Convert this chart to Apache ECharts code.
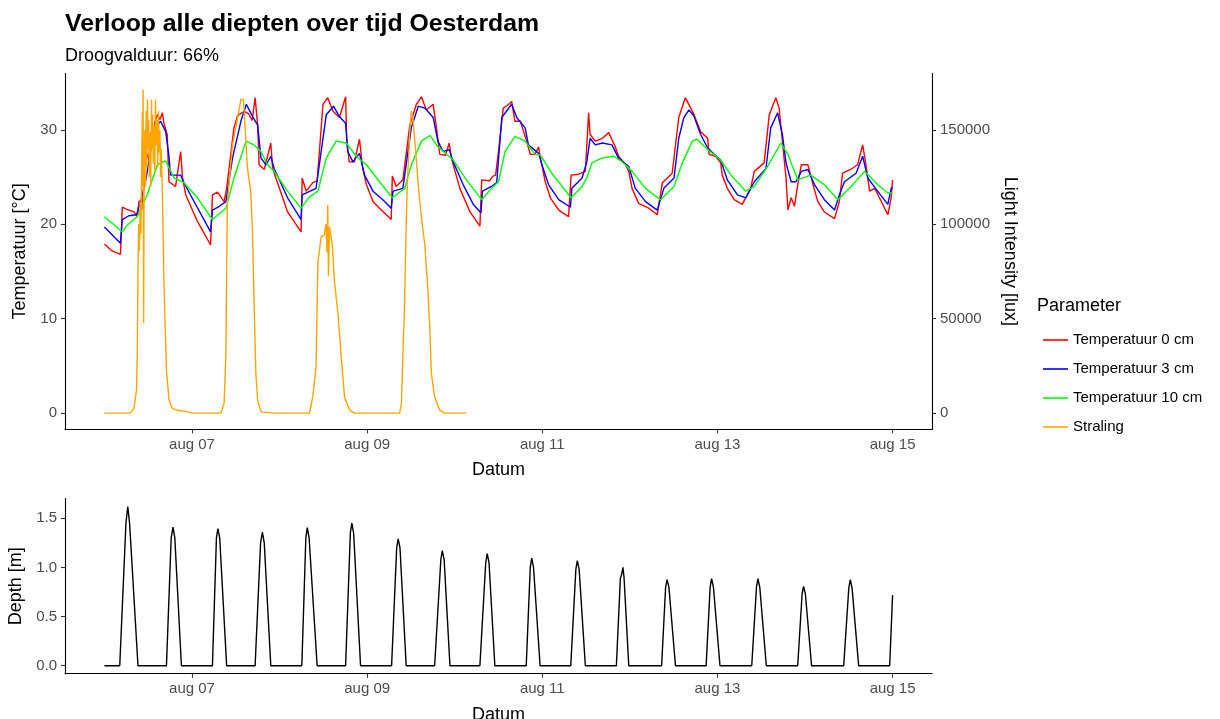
<!DOCTYPE html>
<html>
<head>
<meta charset="utf-8">
<title>Verloop alle diepten over tijd Oesterdam</title>
<script src="https://cdn.jsdelivr.net/npm/echarts@6/dist/echarts.min.js"></script>
<style>
  html, body { margin: 0; padding: 0; background: #fff; }
  #chart { width: 1220px; height: 719px; }
</style>
</head>
<body>
<div id="chart"></div>
<script>
// Time is expressed in hours since 6 August 00:00.
const dateTickHours = [24, 72, 120, 168, 216];
const dateTickLabels = ['aug 07', 'aug 09', 'aug 11', 'aug 13', 'aug 15'];
const tempTicks = [0, 10, 20, 30];
const lightTicks = [0, 50000, 100000, 150000];
const depthTicks = [0, 0.5, 1, 1.5];
const depthTickLabels = ['0.0', '0.5', '1.0', '1.5'];

// Temperature at the surface (0 cm), [hour, °C]
const temp0cm = [
  [0,17.9],[2,17.2],[4.4,16.8],[4.9,21.8],[6,21.6],[8.1,21.3],[9,20.8],[9.5,22.5],[10.2,21.5],[10.8,24],
  [11.3,26.5],[11.7,27.5],[12.2,26.8],[12.8,29.8],[13.3,28.5],[13.8,30.8],[14.5,31.6],[15.2,31.1],[15.9,31.8],[16.3,30.7],
  [17.2,29.5],[17.7,24.5],[19.5,24.0],[20.9,27.7],[21.4,24.9],[22.3,23.1],[25.5,20.3],[29.1,17.8],[29.6,23.1],[31,23.4],
  [32.8,22.4],[33.5,23.8],[35.5,30.2],[36.5,31.5],[38.3,31.95],[39.5,31.7],[40.5,31.0],[41.3,33.4],[42,30.5],[42.4,26.3],
  [43.8,25.8],[45.6,28.6],[46.1,25.9],[50.2,21.3],[53.9,19.2],[54.2,24.9],[55.3,23.5],[57.1,24.4],[58.3,24.6],[59.9,32.7],
  [61.2,33.4],[62.6,32.0],[64.4,31.3],[66.1,33.5],[66.4,28.8],[67.1,26.6],[68.5,26.6],[69.9,29],[70.8,25.9],[71.8,24.2],
  [73.6,22.4],[75.4,21.7],[78.6,20.5],[78.9,25.1],[80,24],[81.8,24.7],[83.7,30.5],[85.5,32.7],[86.9,33.5],[88.2,32.1],
  [90.1,32.7],[91,30.2],[91.9,27.4],[93.5,27.3],[94.5,28.6],[95.1,27],[97.4,23.8],[100.2,21.3],[102.9,19.8],[103.4,24.7],
  [105.5,24.6],[106.5,25.1],[107.2,25.2],[108,27.7],[109.3,32.3],[110.5,32.6],[111.6,33.0],[112.5,30.9],[114,30.9],[115.7,28.8],
  [116.7,27.4],[118,27.4],[119,28.2],[119.4,27.2],[120.8,24.5],[122.2,22.8],[124.5,21.5],[127.2,20.8],[127.9,25.2],[130,25.3],
  [131.8,25.6],[132.7,31.8],[133.1,29.5],[134.5,28.8],[136.5,29.1],[138.2,29.7],[140,28.2],[140.9,27.2],[142.8,26.3],[143.7,25.6],
  [144.6,23.8],[146.4,22.2],[149.2,21.7],[151.5,21.0],[152.9,24.4],[155.6,25.4],[157.4,31.3],[159.2,33.4],[159.7,33.4],[161.6,31.6],
  [163.4,29.8],[165.3,29.1],[165.7,27.4],[167.5,27.2],[168.9,26.5],[169.3,25.2],[170.7,23.8],[172.6,22.6],[174.8,22.1],[177.1,23.8],
  [178.1,25.6],[180.8,26.5],[182.2,31.6],[184,33.4],[184.9,32.3],[185.8,28.8],[186.8,24.9],[187.3,21.5],[188.2,22.8],[189.1,21.9],
  [190,24.2],[191,26.3],[192.8,26.3],[194.2,24.2],[195.5,22.4],[197.3,21.3],[200.1,20.6],[201.4,22.4],[202.3,25.4],[204.5,25.8],
  [206.4,26.3],[207.8,28.4],[208.7,26.3],[209.7,23.5],[211.1,23.8],[212.4,22.8],[214.7,21.0],[215.6,22.8],[216,24.7]
];

// Temperature at 3 cm depth
const temp3cm = [
  [0,19.7],[4.4,18.0],[4.9,20.5],[6.7,20.9],[8.8,21.0],[10,22.5],[11.5,25],[12.5,27.5],[13.5,29],[14.5,30.5],
  [15.4,30.9],[16.8,29.8],[17.7,27.2],[18.1,25.2],[20.9,25.2],[21.8,24.4],[23.6,23.1],[29.1,19.2],[29.6,21.5],[31.5,21.9],
  [33.3,22.4],[35.1,27],[37.4,30.9],[38.9,32.7],[40.6,31.4],[42,30.5],[42.9,27],[44.3,26.3],[45.6,27.2],[46.5,25.9],
  [50.2,22.8],[53.9,20.5],[54.2,23.1],[58,23.8],[60.8,31.6],[62.8,32.5],[64.4,31.4],[66.1,30.7],[66.7,27.7],[68.1,26.6],
  [69.9,27.5],[71.3,25.2],[73.6,23.5],[76.3,22.6],[78.6,21.7],[79.1,23.5],[81.8,23.8],[84.1,30.2],[86,32.5],[87.8,32.3],
  [90.1,31.3],[91.4,28.8],[92.8,27.7],[94.5,27.9],[95.6,26.6],[98.3,24.2],[101.1,22.1],[103.2,21.2],[103.6,23.5],[106.1,24.0],
  [107.5,24.4],[108.9,31.3],[111.6,32.7],[113,31.3],[115.3,30.2],[116.2,28.4],[119,27.5],[119.9,26.3],[121.7,24.2],[124.5,22.6],
  [127.7,21.8],[128.1,23.8],[130.9,24.9],[132.2,26.6],[133.1,29.1],[134.5,28.4],[136.5,28.6],[139.1,28.4],[140.9,27],[143.7,26.1],
  [145.5,23.8],[148.3,22.4],[151.5,21.5],[153.3,23.8],[156.1,24.9],[157.4,29.1],[158.8,31.3],[160.2,32.1],[161.5,31.5],[163.4,29.5],
  [165.3,28.1],[167.1,27.4],[168.9,26.8],[170.7,24.7],[173.5,23.1],[175.8,22.8],[178.1,24.5],[181.3,25.9],[182.6,30.2],[184.5,31.8],
  [185.8,29.5],[186.8,26.5],[188.2,24.5],[189.5,24.5],[191,25.6],[192.8,25.8],[194.6,24.2],[197.3,22.6],[200.1,21.5],[201.4,23.1],
  [202.8,24.5],[206,25.4],[207.8,27.2],[209.2,24.9],[211.9,23.5],[214.7,22.1],[215.6,23.8],[216,23.9]
];

// Temperature at 10 cm depth
const temp10cm = [
  [0,20.8],[4.9,19.2],[6.2,19.9],[9,20.8],[11.7,23.1],[14.5,26.3],[16.8,26.7],[19.1,24.9],[21.8,24.4],[25.5,22.8],
  [29.6,20.5],[33.3,21.7],[35.5,24.9],[38.8,28.8],[41,28.4],[42.9,27.7],[44.7,26.3],[46.5,25.6],[50.2,23.5],[53.9,21.7],
  [56.2,22.9],[58.5,23.5],[60.8,27],[63.5,28.8],[66.3,28.6],[69,27.2],[71.8,26.3],[75.4,24.5],[78.9,22.8],[82.3,23.8],
  [84.1,26.3],[86.9,28.8],[89.2,29.4],[91.4,28.2],[95.6,26.8],[99.2,24.7],[103.4,22.6],[106.1,23.8],[108,24.5],[109.8,27.7],
  [112.5,29.3],[115.3,28.8],[118,27.4],[119.5,27.3],[122.6,25.4],[127.9,22.8],[130.9,24],[132.2,24.9],[133.6,26.5],[136.3,27],
  [139.6,27.2],[141.9,26.6],[144.6,25.6],[148.3,23.8],[152.4,22.6],[156.1,24],[158.4,26.5],[161.1,28.8],[162.4,29],[165.3,27.9],
  [168.9,26.8],[171.7,25.2],[175.8,23.5],[178.1,24],[181.7,26.1],[185.4,28.6],[187.3,27.4],[190,24.7],[193.6,25.2],[197.3,24.2],
  [201,22.6],[204.6,24],[208.3,25.6],[211.9,24.2],[214.7,23.3],[216,23.3]
];

// Light intensity (lux)
const straling = [
  [0,0],[7.1,0],[8.1,2500],[8.8,12200],[9.0,30000],[9.2,75000],[9.4,100000],[9.6,86000],[9.8,112000],[10.0,95000],
  [10.2,130000],[10.4,159700],[10.5,120000],[10.6,171300],[10.75,47700],[10.9,135000],[11.1,150000],[11.3,120000],[11.45,160000],[11.6,130000],
  [11.8,166000],[12.0,140000],[12.15,155000],[12.3,125000],[12.5,148000],[12.7,120000],[12.9,166000],[13.05,140000],[13.2,158000],[13.4,132000],
  [13.6,152000],[13.8,128000],[14.0,166000],[14.2,142000],[14.4,155000],[14.6,130000],[14.8,160000],[15.0,138000],[15.2,150000],[15.4,125000],
  [15.6,140000],[15.9,114700],[16.3,70500],[17.0,22800],[17.7,6900],[18.6,2500],[20,1500],[22.7,800],[24.1,0],[31.9,0],
  [32.8,5100],[33.3,31600],[33.5,75800],[33.7,112000],[35.1,142000],[36.5,156300],[37.4,166000],[38.1,166000],[38.5,152700],[39.2,129700],
  [40.1,117300],[40.6,95000],[41.0,60000],[41.5,21000],[42.0,6900],[42.9,700],[46.5,0],[56.2,0],[57.1,8600],[58.0,24500],
  [58.5,79400],[59.4,93500],[60.2,94000],[60.7,100000],[61.0,85000],[61.2,110300],[61.4,72300],[61.7,98800],[62.1,98800],[62.5,88200],
  [63.0,70500],[64.0,52900],[64.9,29900],[65.8,8600],[67.2,1600],[68.5,0],[80.9,0],[81.4,5100],[81.8,31600],[82.2,52900],
  [82.7,100000],[83.0,120900],[83.7,149200],[84.1,159800],[84.5,157000],[85.3,138500],[86.0,120900],[86.9,103200],[87.8,89100],[88.5,70000],
  [89.2,44000],[89.6,21000],[90.5,8600],[91.9,1600],[93.3,0],[99.2,0]
];

// Water depth (m)
const depth = [
  [0,0],[4.2,0],[5.9,1.45],[6.4,1.62],[6.9,1.45],[9.2,0],
  [17.0,0],[18.3,1.3],[18.8,1.41],[19.3,1.3],[21.1,0],
  [29.6,0],[30.7,1.3],[31.1,1.395],[31.6,1.3],[33.5,0],
  [41.3,0],[42.8,1.25],[43.3,1.36],[43.8,1.25],[45.6,0],
  [54.1,0],[55.2,1.3],[55.6,1.405],[56.1,1.3],[58.3,0],
  [66.1,0],[67.4,1.35],[67.8,1.45],[68.3,1.35],[70.2,0],
  [78.7,0],[80.1,1.2],[80.5,1.29],[81.0,1.2],[82.7,0],
  [90.5,0],[92.2,1.08],[92.6,1.17],[93.1,1.08],[94.7,0],
  [102.9,0],[104.5,1.05],[104.9,1.14],[105.4,1.05],[107.0,0],
  [115.6,0],[116.7,1.0],[117.1,1.095],[117.6,1.0],[119.4,0],
  [127.8,0],[129.2,0.98],[129.6,1.07],[130.1,0.98],[131.8,0],
  [140.3,0],[141.4,0.89],[141.7,0.92],[142.1,1.0],[142.4,0.9],[143.7,0],
  [152.7,0],[153.8,0.8],[154.2,0.875],[154.7,0.8],[156.5,0],
  [164.9,0],[166.0,0.8],[166.4,0.885],[166.9,0.8],[168.7,0],
  [177.4,0],[178.7,0.8],[179.1,0.885],[179.6,0.8],[181.4,0],
  [190.0,0],[191.2,0.73],[191.6,0.806],[192.1,0.73],[193.8,0],
  [202.6,0],[204.0,0.79],[204.4,0.875],[204.9,0.79],[206.7,0],
  [215.2,0],[216,0.72]
];

const FONT = '"Liberation Sans", Arial, sans-serif';
const AXIS_COLOR = '#000';
const TICK_COLOR = '#333';
const LABEL_COLOR = '#4d4d4d';

function xAxisFor(gridIndex, nameGap) {
  return {
    type: 'value', gridIndex: gridIndex,
    min: -10.8, max: 226.8,
    name: 'Datum', nameLocation: 'middle', nameGap: nameGap,
    nameTextStyle: { fontFamily: FONT, fontSize: 18, color: '#000' },
    axisLine: { show: true, onZero: false, lineStyle: { color: AXIS_COLOR, width: 1.1 } },
    axisTick: { show: true, length: 4, customValues: dateTickHours, lineStyle: { color: TICK_COLOR, width: 1.1 } },
    axisLabel: {
      customValues: dateTickHours, margin: 8,
      fontFamily: FONT, fontSize: 15, color: LABEL_COLOR,
      formatter: v => dateTickLabels[dateTickHours.indexOf(v)]
    },
    splitLine: { show: false }
  };
}

function yAxisFor(opts) {
  return {
    type: 'value', gridIndex: opts.grid, position: opts.position,
    min: opts.min, max: opts.max,
    name: opts.name, nameLocation: 'middle', nameGap: opts.nameGap, nameRotate: opts.rotate,
    nameTextStyle: { fontFamily: FONT, fontSize: 18, color: '#000' },
    axisLine: { show: true, onZero: false, lineStyle: { color: AXIS_COLOR, width: 1.1 } },
    axisTick: { show: true, length: 4, customValues: opts.ticks, lineStyle: { color: TICK_COLOR, width: 1.1 } },
    axisLabel: {
      customValues: opts.ticks, margin: 8,
      fontFamily: FONT, fontSize: 15, color: LABEL_COLOR,
      formatter: opts.formatter || (v => String(v))
    },
    splitLine: { show: false }
  };
}

function lineSeries(name, data, color, xi, yi) {
  return {
    name: name, type: 'line', data: data,
    xAxisIndex: xi, yAxisIndex: yi,
    showSymbol: false, symbol: 'none', smooth: false,
    color: color,
    lineStyle: { color: color, width: 1.4 },
    emphasis: { disabled: true },
    animation: false
  };
}

const chart = echarts.init(document.getElementById('chart'), null, { renderer: 'canvas' });
chart.setOption({
  backgroundColor: '#fff',
  animation: false,
  title: [
    { text: 'Verloop alle diepten over tijd Oesterdam', left: 65, top: 12, padding: 0,
      textStyle: { fontFamily: FONT, fontSize: 24.8, fontWeight: 'bold', color: '#000' } },
    { text: 'Droogvalduur: 66%', left: 65, top: 47, padding: 0,
      textStyle: { fontFamily: FONT, fontSize: 18, fontWeight: 'normal', color: '#000' } },
    { text: 'Parameter', left: 1037, top: 297, padding: 0,
      textStyle: { fontFamily: FONT, fontSize: 18, fontWeight: 'normal', color: '#000' } }
  ],
  legend: {
    orient: 'vertical', left: 1038, top: 326,
    icon: 'rect', itemWidth: 25, itemHeight: 1.6, itemGap: 11,
    textStyle: { fontFamily: FONT, fontSize: 15, color: '#000', lineHeight: 18 },
    data: ['Temperatuur 0 cm', 'Temperatuur 3 cm', 'Temperatuur 10 cm', 'Straling'],
    selectedMode: false
  },
  grid: [
    { left: 65, right: 288, top: 73.4, bottom: 289.7, outerBoundsMode: 'none' },
    { left: 65, right: 288, top: 498.6, bottom: 45.3, outerBoundsMode: 'none' }
  ],
  xAxis: [xAxisFor(0, 32), xAxisFor(1, 32)],
  yAxis: [
    yAxisFor({ grid: 0, position: 'left', min: -1.71, max: 35.97, ticks: tempTicks,
      name: 'Temperatuur [°C]', nameGap: 34, rotate: 90 }),
    yAxisFor({ grid: 0, position: 'right', min: -8550, max: 179850, ticks: lightTicks,
      name: 'Light Intensity [lux]', nameGap: 49, rotate: -90 }),
    yAxisFor({ grid: 1, position: 'left', min: -0.081, max: 1.70, ticks: depthTicks,
      name: 'Depth [m]', nameGap: 34, rotate: 90,
      formatter: v => depthTickLabels[depthTicks.indexOf(v)] })
  ],
  series: [
    lineSeries('Temperatuur 0 cm', temp0cm, '#ff0000', 0, 0),
    lineSeries('Temperatuur 3 cm', temp3cm, '#0000ff', 0, 0),
    lineSeries('Temperatuur 10 cm', temp10cm, '#00ff00', 0, 0),
    lineSeries('Straling', straling, '#ffa500', 0, 1),
    lineSeries('Depth', depth, '#000000', 1, 2)
  ]
});
</script>
</body>
</html>
